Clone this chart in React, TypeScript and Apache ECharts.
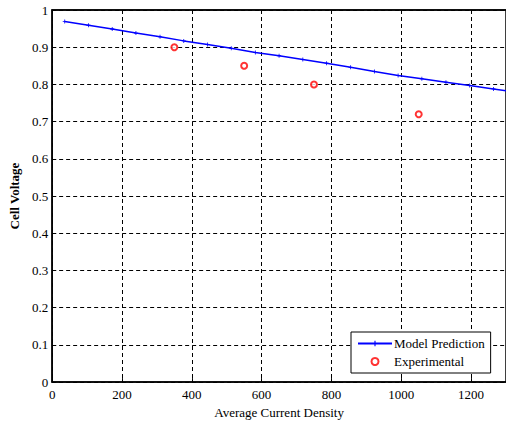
import React, { useEffect, useRef } from "react";
import * as echarts from "echarts";

const modelX = [36, 104, 172, 240, 309, 377, 445, 513, 582, 650, 718, 786, 855, 923, 991, 1059, 1128, 1196, 1264, 1332];
const modelY = [0.969, 0.959, 0.949, 0.938, 0.928, 0.917, 0.907, 0.897, 0.886, 0.877, 0.867, 0.857, 0.846, 0.835, 0.824, 0.815, 0.806, 0.797, 0.788, 0.778];
const expX = [350, 550, 750, 1050];
const expY = [0.9, 0.85, 0.8, 0.72];

const FONT = "Times New Roman, DejaVu Serif, serif";

export default function App() {
  const ref = useRef<HTMLDivElement>(null);
  useEffect(() => {
    if (!ref.current) return;
    const chart = echarts.init(ref.current, null, { renderer: "svg" });
    const plus = "path://M-0.2,-1H0.2V-0.2H1V0.2H0.2V1H-0.2V0.2H-1V-0.2H-0.2Z";
    chart.setOption({
      animation: false,
      backgroundColor: "#fff",
      textStyle: { fontFamily: FONT },
      grid: { left: 50, top: 10, width: 459.5, bottom: 40, show: true, borderColor: "#000", borderWidth: 1.5 },
      legend: {
        orient: "vertical",
        left: 351,
        top: 332,
        padding: [5, 6, 5, 6],
        itemWidth: 34,
        itemHeight: 7,
        itemGap: 5,
        backgroundColor: "#fff",
        borderColor: "#000",
        borderWidth: 1,
        borderRadius: 0,
        textStyle: { fontFamily: FONT, fontSize: 13, color: "#000", padding: [0, 0, 0, -3] },
        data: ["Model Prediction", "Experimental"],
      },
      xAxis: [
        {
          type: "value",
          min: 0,
          max: 1300,
          interval: 200,
          position: "bottom",
          name: "Average Current Density",
          nameLocation: "middle",
          nameGap: 22,
          nameTextStyle: { fontFamily: FONT, fontSize: 13, color: "#000" },
          axisLine: { show: true, lineStyle: { color: "#000", width: 1.5 } },
          axisTick: { show: true, inside: true, length: 4, lineStyle: { color: "#000" } },
          axisLabel: {
            fontFamily: FONT,
            fontSize: 13,
            color: "#000",
            margin: 6,
            showMaxLabel: false,
            formatter: (v: number) => String(v),
          },
          splitLine: { show: true, lineStyle: { color: "#000", type: [4, 3], width: 1 } },
        },
        {
          type: "value",
          min: 0,
          max: 1300,
          interval: 200,
          position: "top",
          axisLine: { show: true, lineStyle: { color: "#000", width: 1.5 } },
          axisTick: { show: true, inside: true, length: 4, lineStyle: { color: "#000" } },
          axisLabel: { show: false },
          splitLine: { show: false },
        },
      ],
      yAxis: {
        type: "value",
        min: 0,
        max: 1,
        interval: 0.1,
        name: "Cell Voltage",
        nameLocation: "middle",
        nameGap: 29,
        nameTextStyle: { fontFamily: FONT, fontSize: 13, color: "#000", fontWeight: "bold" },
        axisLine: { show: true, lineStyle: { color: "#000", width: 1.5 } },
        axisTick: { show: true, inside: true, length: 4, lineStyle: { color: "#000" } },
        axisLabel: {
          fontFamily: FONT,
          fontSize: 13,
          color: "#000",
          margin: 4,
          formatter: (v: number) => (v === 0 ? "0" : v === 1 ? "1" : v.toFixed(1)),
        },
        splitLine: { show: true, lineStyle: { color: "#000", type: [4, 3], width: 1 } },
      },
      series: [
        {
          name: "Model Prediction",
          type: "line",
          xAxisIndex: 0,
          data: modelX.map((x, i) => [x, modelY[i]]),
          lineStyle: { color: "#0000ff", width: 1.5 },
          itemStyle: { color: "#0000ff" },
          symbol: plus,
          symbolSize: 4,
          showSymbol: true,
          clip: true,
          z: 3,
        },
        {
          name: "Experimental",
          type: "scatter",
          xAxisIndex: 0,
          data: expX.map((x, i) => [x, expY[i]]),
          symbol: "emptyCircle",
          symbolSize: 6,
          itemStyle: { color: "#ff0000", borderColor: "#ff0000", borderWidth: 1.2 },
          z: 4,
        },
      ],
    });
    return () => chart.dispose();
  }, []);
  return <div ref={ref} style={{ position: "fixed", left: 0, top: 0, width: 506, height: 424 }} />;
}
